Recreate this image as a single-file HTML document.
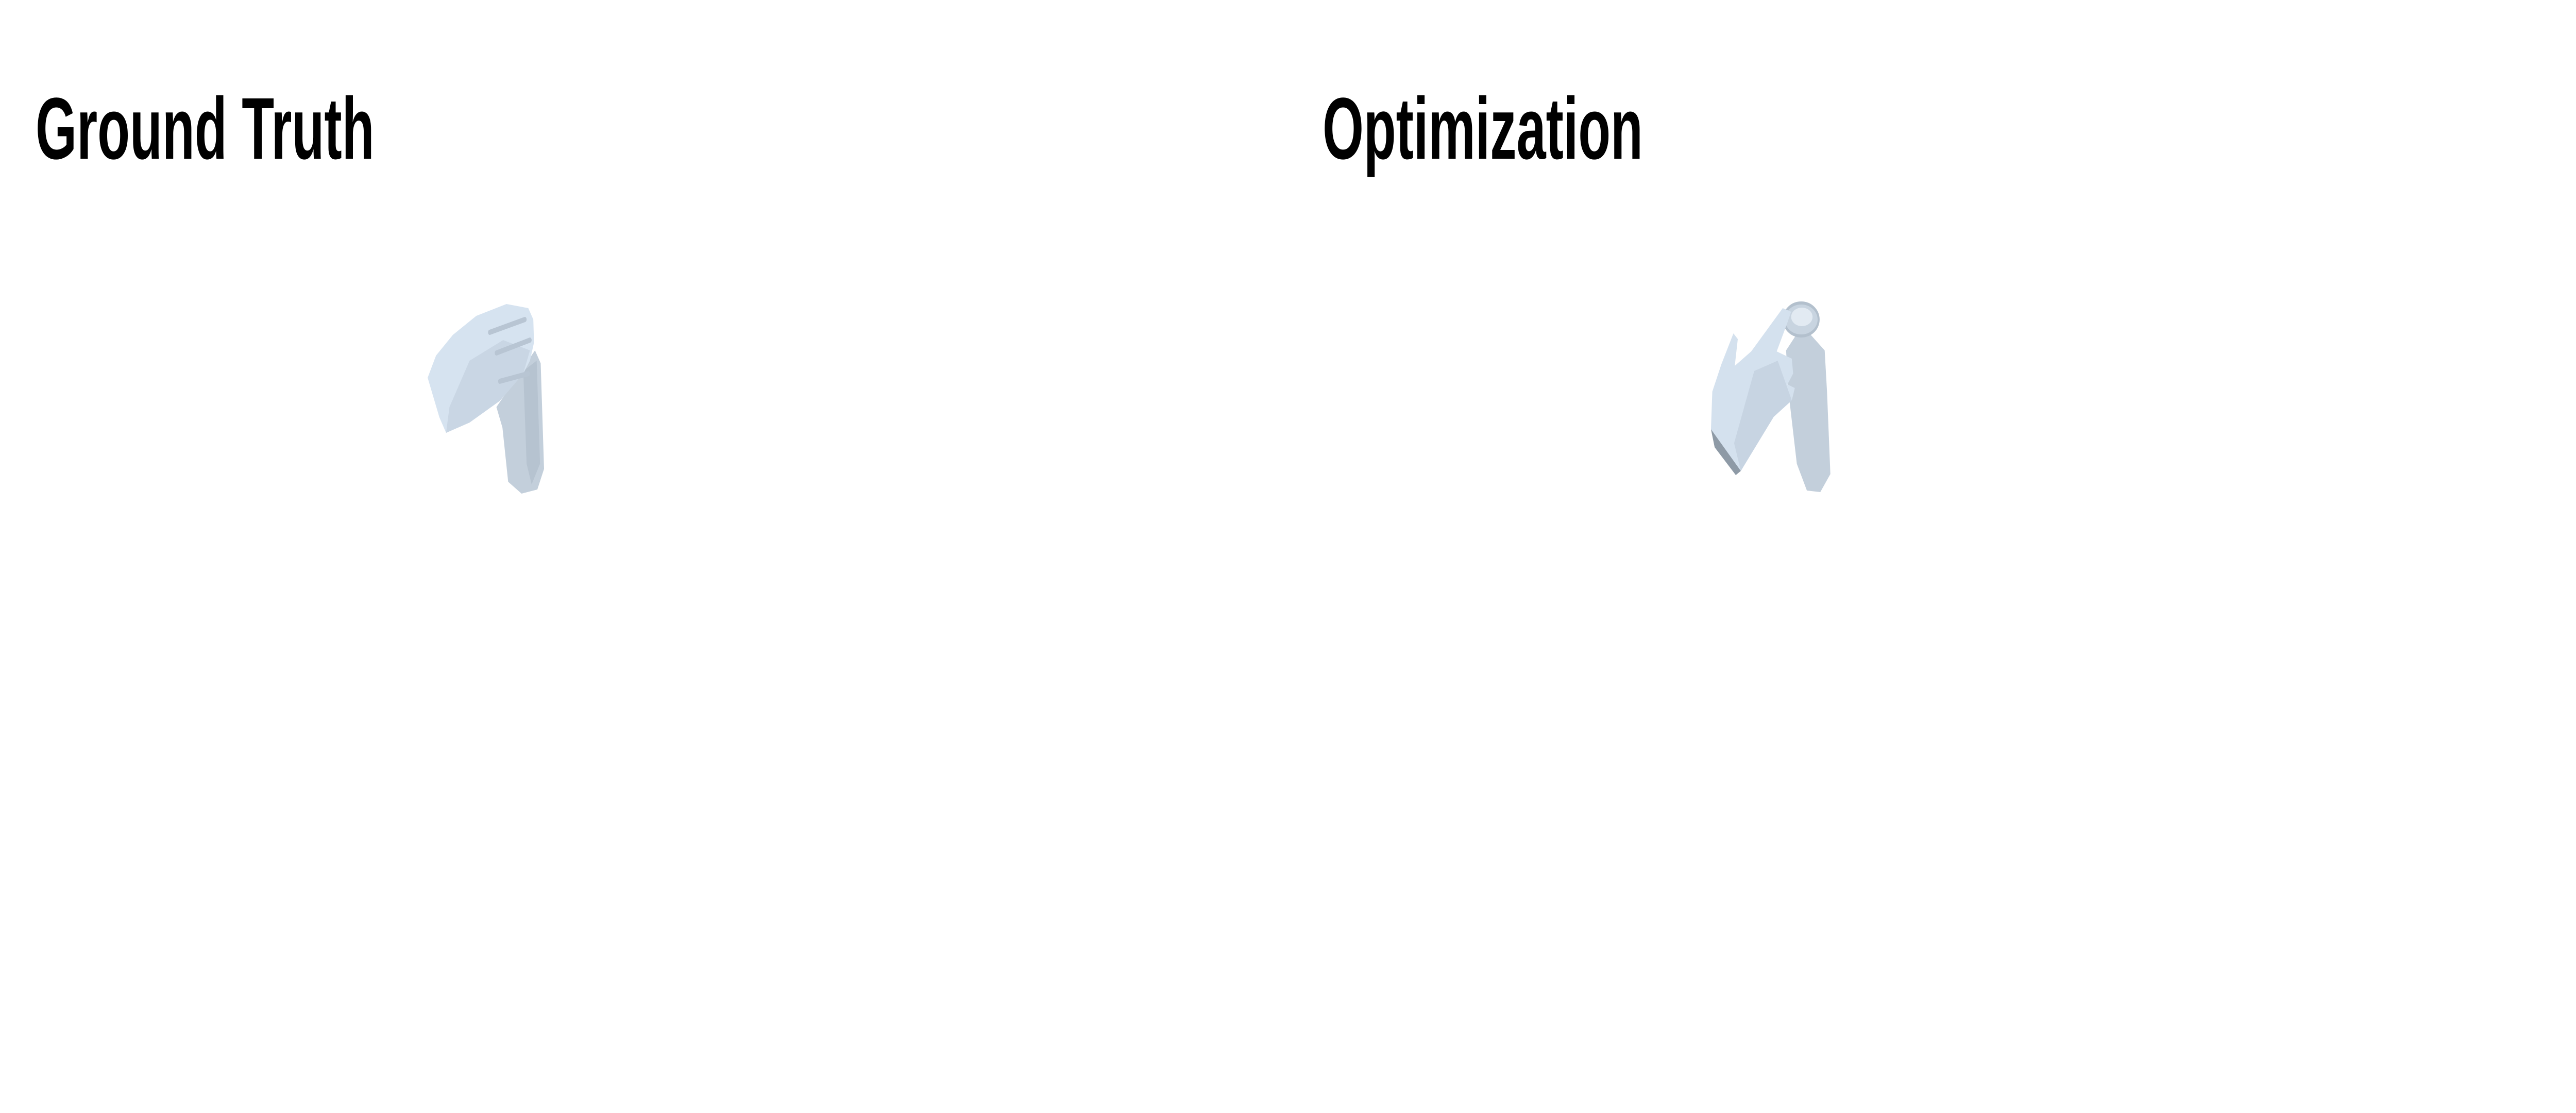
<!DOCTYPE html>
<html><head><meta charset="utf-8"><style>
html,body{margin:0;padding:0;background:#fff;width:100%;height:100%;overflow:hidden;}
svg{display:block;width:100vw;height:100vh;}
</style></head><body>
<svg viewBox="0 0 7680 2160" preserveAspectRatio="none">
<rect width="7680" height="2160" fill="#fff"/>
<text x="106" y="308" font-family="Liberation Sans, sans-serif" font-weight="bold" font-size="170" textLength="1010" lengthAdjust="spacingAndGlyphs" fill="#000">Ground Truth</text>
<text x="3943" y="308" font-family="Liberation Sans, sans-serif" font-weight="bold" font-size="170" textLength="955" lengthAdjust="spacingAndGlyphs" fill="#000">Optimization</text>

<g>
 <polygon points="1480,790 1595,680 1612,705 1622,910 1602,950 1555,958 1515,935 1498,830" fill="#c3cfdb"/>
 <polygon points="1560,720 1600,700 1610,900 1585,940 1570,900" fill="#b6c3d0"/>
 <polygon points="1275,733 1300,690 1350,650 1420,613 1510,590 1575,598 1590,620 1592,665 1580,700 1560,725 1490,778 1400,820 1330,840 1310,810" fill="#d6e3f0"/>
 <polygon points="1400,700 1500,660 1580,680 1560,725 1490,778 1400,820 1330,840 1340,790" fill="#c9d6e4"/>
 <path d="M1460,645 L1565,620 M1480,685 L1580,660 M1490,740 L1575,725" stroke="#b8c5d3" stroke-width="10" fill="none" stroke-linecap="round"/>
</g>

<g>
 <polygon points="5325,680 5355,650 5385,640 5440,680 5447,760 5457,920 5427,955 5387,952 5357,900 5332,760" fill="#c3cfdb"/>
 <ellipse cx="5370" cy="620" rx="52" ry="32" fill="#c8d4e0" stroke="#b3c0cd" stroke-width="6"/>
 <ellipse cx="5372" cy="615" rx="32" ry="18" fill="#e2eaf2"/>
 <polygon points="5101,833 5105,760 5132,707 5168,647 5181,658 5172,710 5221,682 5315,598 5340,605 5329,626 5297,682 5342,696 5346,725 5329,746 5351,753 5342,777 5288,809 5190,914 5132,875" fill="#d4e1ee"/>
 <polygon points="5230,720 5300,700 5342,777 5288,809 5190,914 5170,860" fill="#c7d4e2"/>
 <polygon points="5101,833 5190,914 5175,922 5112,868" fill="#8e9aa6"/>
</g>
</svg>
</body></html>
